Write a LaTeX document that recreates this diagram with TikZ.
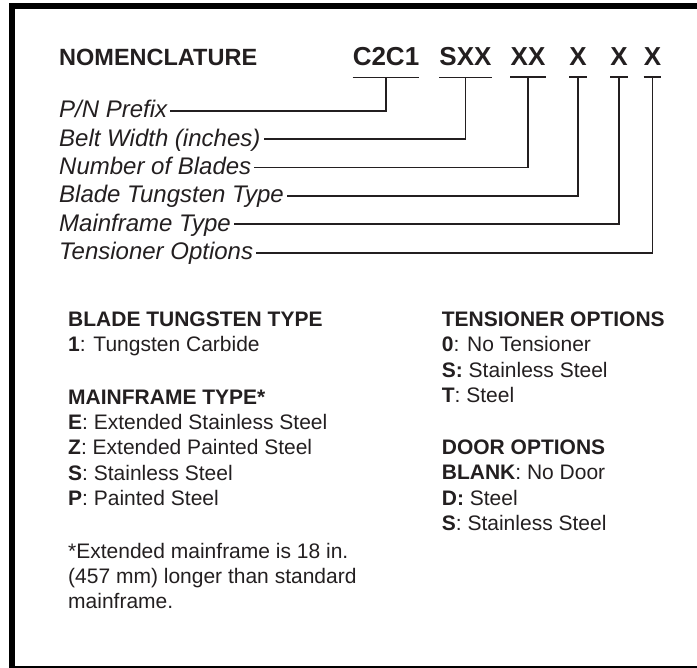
\documentclass[tikz,border=0pt]{standalone}
\usepackage{fontspec}
\setmainfont{Liberation Sans}
\usepackage{tikz}
\usetikzlibrary{positioning}
\definecolor{ink}{HTML}{231F20}

\begin{document}
\begin{tikzpicture}[x=1pt, y=-1pt,
        title/.style={font=\fontsize{23.5}{28}\selectfont\bfseries, inner sep=0pt, anchor=base west, text=ink},
        code/.style={font=\fontsize{26}{30}\selectfont\bfseries, inner xsep=0pt, inner ysep=11pt, anchor=base, text=ink},
        field/.style={font=\fontsize{24}{28}\selectfont\itshape, inner xsep=3pt, inner ysep=0pt, text height=18pt, text depth=4pt, anchor=base west, text=ink},
        legend/.style={font=\fontsize{21}{25.3}\selectfont, align=left, inner sep=0pt, anchor=north west, text=ink},
        lead/.style={draw=ink, line width=1.8pt}
    ]
        \useasboundingbox (0,0) rectangle (697,668);
        % Frame: heavy top and left edges, thin bottom edge
        \fill (9,3) rectangle (697,9);
        \fill (9,3) rectangle (15,668);
        \draw[line width=1.5pt] (9,667.2) -- (697,667.2);
        % Part number
        \node[title] (nom) at (59,65.7) {NOMENCLATURE};
        \node[code] (pfx) at (386,66) {C2C1};
        \node[code] (wid) at (465.5,66) {SXX};
        \node[code] (nbl) at (528,66) {XX};
        \node[code] (tng) at (578,66) {X};
        \node[code] (mfr) at (619,66) {X};
        \node[code] (tns) at (652.5,66) {X};
        % Field names
        \node[field] (lpn) at (56,117.7) {P/N Prefix};
        \node[field] (lbw) at (56,146.1) {Belt Width (inches)};
        \node[field] (lnb) at (56,174.5) {Number of Blades};
        \node[field] (lbt) at (56,202.9) {Blade Tungsten Type};
        \node[field] (lmf) at (56,231.3) {Mainframe Type};
        \node[field] (lto) at (56,259.7) {Tensioner Options};
        % Leaders from each code group to its field
        \foreach \c in {pfx,wid,nbl,tng,mfr,tns}
            \draw[lead] (\c.south west) -- (\c.south east);
        \foreach \c/\l in {pfx/lpn, wid/lbw, nbl/lnb, tng/lbt, mfr/lmf, tns/lto}
            \draw[lead] (\c.south) |- (\l.east);
        % Option lists
        \node[legend] (blade) at (68,311.7) {\textbf{BLADE TUNGSTEN TYPE}\\\textbf{1}: Tungsten Carbide};
        \node[legend] (frame) at (68,389.7) {\textbf{MAINFRAME TYPE*}\\\textbf{E}: Extended Stainless Steel\\\textbf{Z}: Extended Painted Steel\\\textbf{S}: Stainless Steel\\\textbf{P}: Painted Steel};
        \node[legend] (note) at (68,542.7) {*Extended mainframe is 18 in.\\(457 mm) longer than standard\\mainframe.};
        \node[legend] (tens) at (441.7,311.7) {\textbf{TENSIONER OPTIONS}\\\textbf{0}: No Tensioner\\\textbf{S:} Stainless Steel\\\textbf{T}: Steel};
        \node[legend] (door) at (441.7,439.7) {\textbf{DOOR OPTIONS}\\\textbf{BLANK}: No Door\\\textbf{D:} Steel\\\textbf{S}: Stainless Steel};
    \end{tikzpicture}
\end{document}
